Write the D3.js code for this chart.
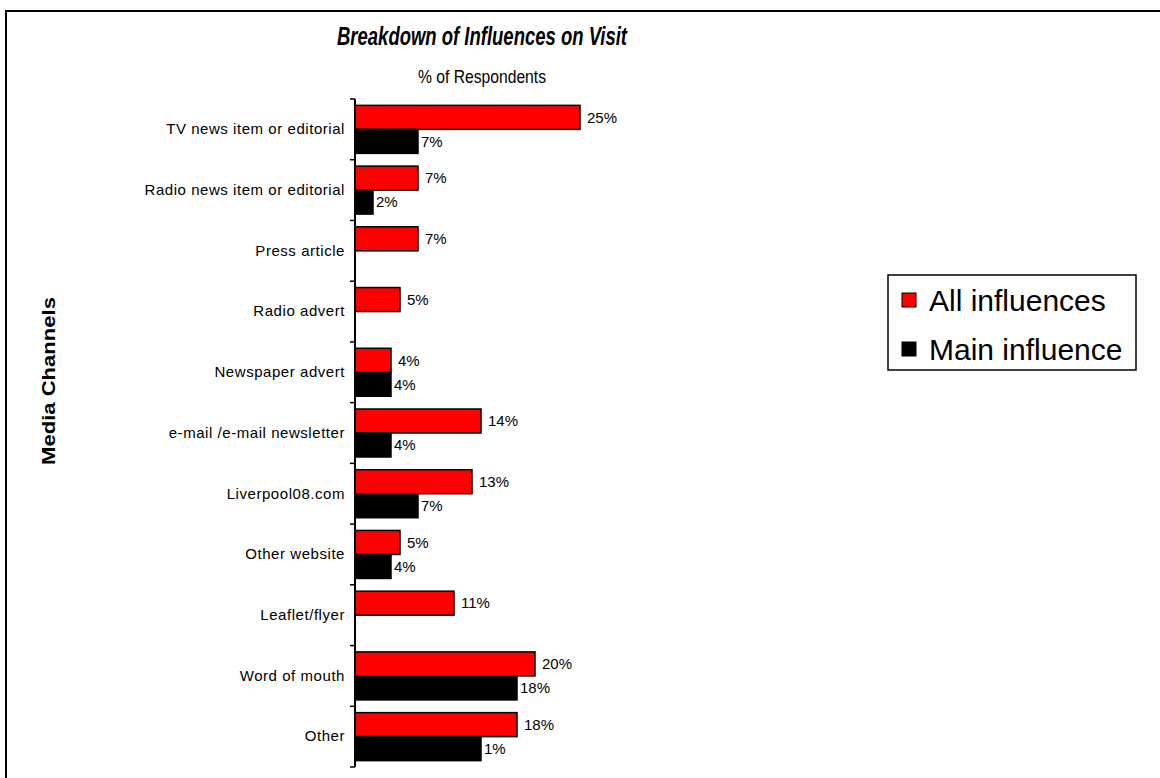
<!DOCTYPE html>
<html>
<head>
<meta charset="utf-8">
<script src="https://cdn.jsdelivr.net/npm/d3@7"></script>
<style>
  html, body { margin: 0; padding: 0; background: #fff; }
  text { font-family: "Liberation Sans", Arial, sans-serif; }
</style>
</head>
<body>
<script>
const categories = [
  "TV news item or editorial",
  "Radio news item or editorial",
  "Press article",
  "Radio advert",
  "Newspaper advert",
  "e-mail /e-mail newsletter",
  "Liverpool08.com",
  "Other website",
  "Leaflet/flyer",
  "Word of mouth",
  "Other"
];
const seriesNames = ["All influences", "Main influence"];
const allInfluences = [25, 7, 7, 5, 4, 14, 13, 5, 11, 20, 18];
const mainInfluence = [7, 2, null, null, 4, 4, 7, 4, null, 18, 14];
const allLabels = ["25%", "7%", "7%", "5%", "4%", "14%", "13%", "5%", "11%", "20%", "18%"];
const mainLabels = ["7%", "2%", null, null, "4%", "4%", "7%", "4%", null, "18%", "1%"];
const colors = ["#ff0000", "#000000"];

const W = 1160, H = 778;
const svg = d3.select("body").append("svg").attr("width", W).attr("height", H);

// outer frame (extends past right/bottom edges)
svg.append("rect").attr("x", 6).attr("y", 11).attr("width", W).attr("height", H)
  .attr("fill", "none").attr("stroke", "#000").attr("stroke-width", 2);

const x = d3.scaleLinear().domain([0, 25]).range([355, 580]);
const y = d3.scaleBand().domain(categories).range([99, 767]);
const inner = d3.scaleBand().domain(seriesNames).range([0, y.bandwidth()]).paddingOuter(0.265);

const rows = categories.map((c, i) => ({
  cat: c,
  vals: [
    { s: seriesNames[0], v: allInfluences[i], label: allLabels[i] },
    { s: seriesNames[1], v: mainInfluence[i], label: mainLabels[i] }
  ]
}));

const g = svg.append("g");
const grp = g.selectAll("g.row").data(rows).join("g").attr("class", "row")
  .attr("transform", d => `translate(0,${y(d.cat)})`);

grp.selectAll("rect").data(d => d.vals.filter(v => v.v != null)).join("rect")
  .attr("x", x(0))
  .attr("y", d => inner(d.s))
  .attr("width", d => x(d.v) - x(0))
  .attr("height", inner.bandwidth())
  .attr("fill", d => colors[seriesNames.indexOf(d.s)])
  .attr("stroke", "#000").attr("stroke-width", 1.5);

grp.selectAll("text.val").data(d => d.vals.filter(v => v.v != null)).join("text")
  .attr("class", "val")
  .attr("x", d => x(d.v) + (d.s === seriesNames[0] ? 7 : 3))
  .attr("y", d => inner(d.s) + inner.bandwidth() / 2)
  .attr("dy", "0.35em")
  .attr("font-size", 15)
  .attr("fill", "#000")
  .text(d => d.label);

// axis with labels at band centers, ticks at band edges
const axisG = svg.append("g").attr("transform", `translate(${x(0)},0)`);
axisG.call(d3.axisLeft(y).tickSize(0).tickPadding(10))
  .call(a => a.select(".domain").remove())
  .selectAll("text").attr("font-size", 15).attr("fill", "#000")
  .style("font-family", '"Liberation Sans", Arial, sans-serif')
  .style("letter-spacing", "0.55px");

const edges = categories.map(c => y(c)).concat([y.range()[1]]);
axisG.selectAll("line.edge").data(edges).join("line").attr("class", "edge")
  .attr("x1", -5).attr("x2", 0).attr("y1", d => d).attr("y2", d => d)
  .attr("stroke", "#000").attr("stroke-width", 1.5);
axisG.append("line").attr("x1", 0).attr("x2", 0)
  .attr("y1", y.range()[0]).attr("y2", y.range()[1])
  .attr("stroke", "#000").attr("stroke-width", 2);

// titles
svg.append("text").attr("x", 482).attr("y", 45).attr("text-anchor", "middle")
  .attr("font-size", 26).attr("font-weight", "bold").attr("font-style", "italic")
  .attr("textLength", 290).attr("lengthAdjust", "spacingAndGlyphs")
  .text("Breakdown of Influences on Visit");
svg.append("text").attr("x", 482).attr("y", 83).attr("text-anchor", "middle")
  .attr("font-size", 19).attr("textLength", 128).attr("lengthAdjust", "spacingAndGlyphs")
  .text("% of Respondents");
svg.append("text").attr("transform", "translate(55,381) rotate(-90)")
  .attr("text-anchor", "middle").attr("font-size", 19).attr("font-weight", "bold")
  .attr("textLength", 168).attr("lengthAdjust", "spacingAndGlyphs")
  .text("Media Channels");

// legend
const leg = svg.append("g").attr("transform", "translate(888,275)");
leg.append("rect").attr("width", 248).attr("height", 95)
  .attr("fill", "#fff").attr("stroke", "#000").attr("stroke-width", 1.5);
const li = leg.selectAll("g.li").data(seriesNames).join("g").attr("class", "li")
  .attr("transform", (d, i) => `translate(14,${25 + i * 49})`);
li.append("rect").attr("x", 0).attr("y", -7).attr("width", 14).attr("height", 14)
  .attr("fill", (d, i) => colors[i]).attr("stroke", "#000").attr("stroke-width", 1);
li.append("text").attr("x", 27).attr("dy", "0.35em").attr("font-size", 30).text(d => d);
</script>
</body>
</html>
